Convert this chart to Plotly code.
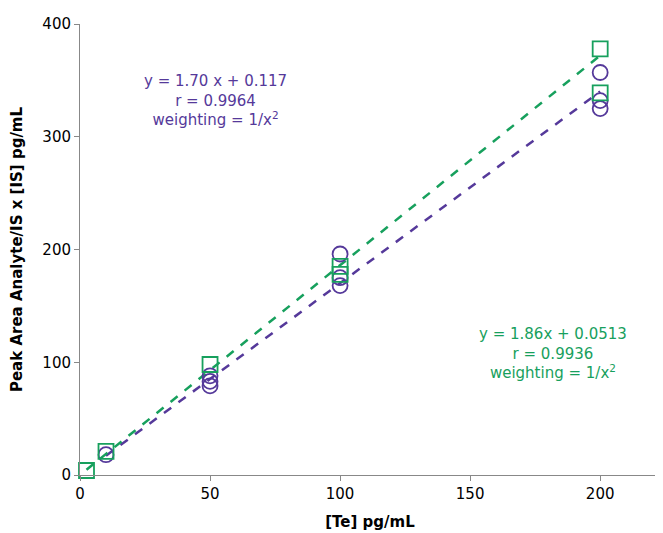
import numpy as np
import plotly.graph_objects as go

# purple circles
te_purple = [10, 50, 50, 50, 100, 100, 100, 200, 200, 200]
area_purple = [18, 88, 83, 79, 196, 175, 168, 357, 332, 325]
# green squares
te_green = [2.5, 10, 50, 100, 100, 200, 200]
area_green = [4, 21, 98, 185, 178, 378, 339]

fit_purple = (1.70, 0.117)
fit_green = (1.86, 0.0513)

PURPLE = "#55399a"
GREEN = "#17a05d"

fig = go.Figure()
xp = np.array([10, 200])
fig.add_trace(go.Scatter(x=xp, y=fit_purple[0] * xp + fit_purple[1], mode="lines",
                         line=dict(color=PURPLE, width=2.5, dash="dash")))
xg = np.array([2.5, 200])
fig.add_trace(go.Scatter(x=xg, y=fit_green[0] * xg + fit_green[1], mode="lines",
                         line=dict(color=GREEN, width=2.5, dash="dash")))
fig.add_trace(go.Scatter(x=te_purple, y=area_purple, mode="markers", cliponaxis=False,
                         marker=dict(symbol="circle-open", size=15, color=PURPLE, line=dict(width=1.8))))
fig.add_trace(go.Scatter(x=te_green, y=area_green, mode="markers", cliponaxis=False,
                         marker=dict(symbol="square-open", size=15, color=GREEN, line=dict(width=1.8))))

fig.add_annotation(x=0.233, y=0.83, xref="paper", yref="paper", showarrow=False,
                   xanchor="center", yanchor="middle",
                   text="y = 1.70 x + 0.117<br>r = 0.9964<br>weighting = 1/x<sup>2</sup>",
                   font=dict(color=PURPLE, size=15))
fig.add_annotation(x=0.815, y=0.27, xref="paper", yref="paper", showarrow=False,
                   xanchor="center", yanchor="middle",
                   text="y = 1.86x + 0.0513<br>r = 0.9936<br>weighting = 1/x<sup>2</sup>",
                   font=dict(color=GREEN, size=15))

fig.update_layout(
    width=663, height=533, showlegend=False,
    paper_bgcolor="white", plot_bgcolor="white",
    font=dict(family="DejaVu Sans", size=15, color="black"),
    margin=dict(l=72, r=11, t=16, b=66),
    xaxis=dict(range=[0, 223], tickvals=[0, 50, 100, 150, 200], showline=True, linecolor="#888",
               ticks="outside", tickcolor="#888", showgrid=False, zeroline=False, automargin=False,
               title=dict(text="<b>[Te] pg/mL</b>", standoff=14, font=dict(size=15))),
    yaxis=dict(range=[0, 400], tickvals=[0, 100, 200, 300, 400], showline=True, linecolor="#888",
               ticks="outside", tickcolor="#888", showgrid=False, zeroline=False, automargin=False,
               title=dict(text="<b>Peak Area Analyte/IS x [IS] pg/mL</b>", standoff=16, font=dict(size=15))),
)
fig.write_html("out.html")
